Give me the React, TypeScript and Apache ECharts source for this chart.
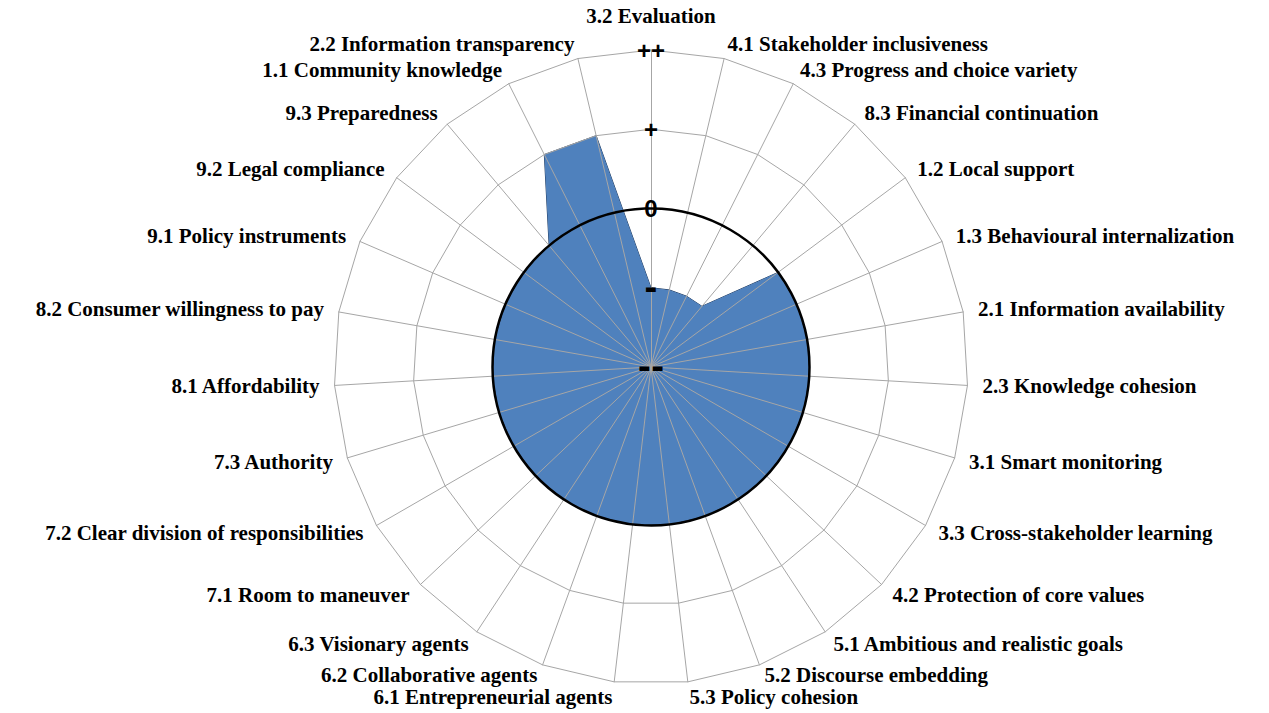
import React, { useEffect, useRef } from 'react';
import * as echarts from 'echarts';

// Indicators in clockwise order, starting at the top
const indicators: string[] = [
  '3.2 Evaluation',
  '4.1 Stakeholder inclusiveness',
  '4.3 Progress and choice variety',
  '8.3 Financial continuation',
  '1.2 Local support',
  '1.3 Behavioural internalization',
  '2.1 Information availability',
  '2.3 Knowledge cohesion',
  '3.1 Smart monitoring',
  '3.3 Cross-stakeholder learning',
  '4.2 Protection of core values',
  '5.1 Ambitious and realistic goals',
  '5.2 Discourse embedding',
  '5.3 Policy cohesion',
  '6.1 Entrepreneurial agents',
  '6.2 Collaborative agents',
  '6.3 Visionary agents',
  '7.1 Room to maneuver',
  '7.2 Clear division of responsibilities',
  '7.3 Authority',
  '8.1 Affordability',
  '8.2 Consumer willingness to pay',
  '9.1 Policy instruments',
  '9.2 Legal compliance',
  '9.3 Preparedness',
  '1.1 Community knowledge',
  '2.2 Information transparency',
];

// Scores: 0 = "--", 1 = "-", 2 = "0", 3 = "+", 4 = "++"
const scores: number[] = [1, 1, 1, 1, 2, 2, 2, 2, 2, 2, 2, 2, 2, 2, 2, 2, 2, 2, 2, 2, 2, 2, 2, 2, 2, 3, 3];

const tickLabels: string[] = ['--', '-', '0', '+', '++'];

// ECharts radar places axes counter-clockwise; reorder so they run clockwise
function clockwise<T>(arr: T[]): T[] {
  return [arr[0], ...arr.slice(1).reverse()];
}

// small vertical nudges of a few crowded names
const nameStyleTweaks: Record<string, any> = {
  '3.2 Evaluation': { padding: [0, 0, 12, 0] },
  '5.2 Discourse embedding': { verticalAlign: 'bottom', lineHeight: 8 },
  '6.2 Collaborative agents': { verticalAlign: 'bottom', lineHeight: 8 },
};

export default function App() {
  const ref = useRef<HTMLDivElement>(null);

  useEffect(() => {
    if (!ref.current) return;
    const chart = echarts.init(ref.current, null, { renderer: 'svg' });

    const names = clockwise(indicators);
    const indicatorOpts = names.map((name, i) => {
      const o: any = { name, min: 0, max: tickLabels.length - 1 };
      if (i === 0) {
        o.axisLabel = {
          show: true,
          margin: 0,
          align: 'center',
          verticalAlign: 'middle',
          showMinLabel: true,
          showMaxLabel: true,
          formatter: (v: number) => {
            const t = tickLabels[Math.round(v)] ?? '';
            return t.indexOf('-') >= 0 ? `{d|${t}}` : `{p|${t}}`;
          },
          rich: {
            d: { fontFamily: 'DejaVu Sans', fontWeight: 'bold', fontSize: 32, color: '#000' },
            p: { fontFamily: 'Liberation Sans', fontWeight: 'bold', fontSize: 24, color: '#000' },
          },
        };
      }
      if (nameStyleTweaks[name]) {
        o.nameTextStyle = { ...nameStyleTweaks[name] };
      }
      return o;
    });

    const plainIndicators = names.map((name) => ({ name, min: 0, max: tickLabels.length - 1 }));

    const option: any = {
      animation: false,
      backgroundColor: '#ffffff',
      radar: [
        {
          center: [651, 367],
          radius: 317,
          startAngle: 90,
          splitNumber: 4,
          shape: 'polygon',
          z: 3,
          nameGap: 15,
          indicator: indicatorOpts,
          axisName: {
            color: '#000',
            fontFamily: 'Liberation Serif',
            fontWeight: 'bold',
            fontSize: 21,
            lineHeight: 15,
          },
          axisLine: { show: true, lineStyle: { color: '#a6a6a6', width: 1 } },
          axisTick: { show: false },
          axisLabel: { show: false },
          splitLine: {
            show: true,
            lineStyle: {
              color: ['#a6a6a6', 'rgba(0,0,0,0)', 'rgba(0,0,0,0)', '#a6a6a6', '#a6a6a6'],
              width: 1,
            },
          },
          splitArea: { show: false },
        },
        {
          // circular ring at the neutral "0" level
          center: [651, 367],
          radius: 317,
          startAngle: 90,
          splitNumber: 4,
          shape: 'circle',
          z: 4,
          indicator: plainIndicators,
          axisName: { show: false },
          axisLine: { show: false },
          axisTick: { show: false },
          axisLabel: { show: false },
          splitLine: {
            show: true,
            lineStyle: {
              color: ['rgba(0,0,0,0)', 'rgba(0,0,0,0)', '#000000', 'rgba(0,0,0,0)', 'rgba(0,0,0,0)'],
              width: 2.5,
            },
          },
          splitArea: { show: false },
        },
      ],
      series: [
        {
          type: 'radar',
          radarIndex: 0,
          z: 2,
          symbol: 'none',
          silent: true,
          data: [
            {
              value: clockwise(scores),
              name: 'Score',
              lineStyle: { color: '#1f3a5f', width: 1 },
              areaStyle: { color: '#4f81bd', opacity: 1 },
            },
          ],
        },
      ],
    };

    chart.setOption(option);
    return () => chart.dispose();
  }, []);

  return (
    <div
      ref={ref}
      style={{ position: 'fixed', left: 0, top: 0, width: 1269, height: 713, background: '#fff' }}
    />
  );
}
